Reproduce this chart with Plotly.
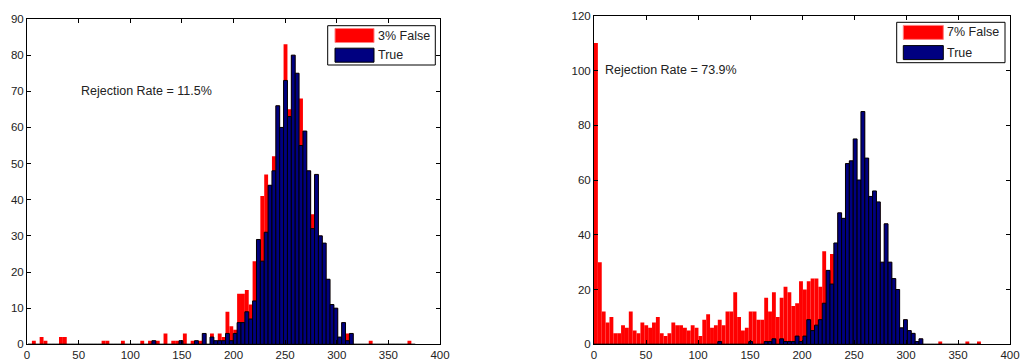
import plotly.graph_objects as go

FIG_W, FIG_H = 1021, 360

# Histogram binning (100 equal bins per panel)
N_BINS = 100
left_bin_start, left_bin_width = 1.0, 3.75
right_bin_start, right_bin_width = 0.0, 3.72

# Left panel: counts per bin, all samples (3% false) and true samples only
left_all = [
    0, 1, 0, 2, 1, 0, 0, 0, 2, 2,
    0, 0, 0, 0, 0, 0, 0, 0, 0, 1,
    1, 0, 0, 0, 1, 0, 0, 0, 0, 1,
    0, 1, 1, 1, 0, 3, 0, 1, 1, 1,
    3, 0, 1, 1, 1, 3, 0, 3, 1, 3,
    2, 9, 5, 4, 14, 14, 15, 11, 23, 29,
    41, 47, 44, 52, 66, 60, 83, 65, 80, 75,
    68, 59, 48, 36, 47, 30, 28, 18, 11, 10,
    2, 6, 3, 3, 0, 0, 0, 0, 1, 0,
    0, 0, 0, 0, 0, 0, 0, 0, 1, 0,
]
left_true = [
    0, 0, 0, 0, 0, 0, 0, 0, 0, 0,
    0, 0, 0, 0, 0, 0, 0, 0, 0, 0,
    0, 0, 0, 0, 0, 0, 0, 0, 0, 0,
    0, 0, 1, 0, 0, 0, 0, 0, 0, 1,
    0, 0, 0, 1, 0, 3, 0, 2, 1, 1,
    1, 3, 1, 3, 6, 6, 9, 7, 12, 29,
    23, 31, 44, 48, 66, 60, 73, 63, 80, 75,
    55, 59, 48, 32, 47, 30, 28, 18, 11, 10,
    2, 6, 1, 3, 0, 0, 0, 0, 0, 0,
    0, 0, 0, 0, 0, 0, 0, 0, 0, 0,
]

# Right panel: counts per bin, all samples (7% false) and true samples only
right_all = [
    110, 30, 12, 8, 10, 4, 4, 7, 6, 12,
    5, 4, 8, 7, 6, 8, 10, 4, 3, 4,
    8, 7, 7, 6, 5, 7, 6, 3, 9, 11,
    6, 7, 9, 7, 12, 12, 19, 10, 5, 6,
    12, 12, 9, 9, 17, 12, 19, 10, 17, 21,
    19, 14, 15, 23, 20, 23, 24, 24, 21, 34,
    27, 33, 37, 48, 46, 66, 67, 75, 60, 85,
    68, 54, 56, 52, 30, 44, 30, 24, 20, 6,
    9, 5, 4, 1, 2, 0, 0, 0, 0, 1,
    0, 0, 0, 0, 0, 0, 1, 0, 0, 1,
]
right_true = [
    0, 0, 0, 0, 0, 0, 0, 0, 0, 0,
    0, 0, 0, 0, 0, 0, 0, 0, 0, 0,
    0, 0, 0, 0, 0, 0, 0, 0, 0, 0,
    0, 0, 1, 0, 0, 0, 0, 0, 0, 0,
    1, 0, 0, 0, 1, 1, 2, 0, 2, 1,
    1, 1, 3, 1, 3, 9, 5, 7, 9, 15,
    27, 22, 37, 48, 46, 66, 67, 75, 60, 85,
    68, 54, 56, 52, 30, 44, 30, 24, 20, 6,
    9, 5, 4, 1, 2, 0, 0, 0, 0, 0,
    0, 0, 0, 0, 0, 0, 0, 0, 0, 0,
]

left_false_label = "3% False"
right_false_label = "7% False"
true_label = "True"
left_note = "Rejection Rate = 11.5%"
right_note = "Rejection Rate = 73.9%"

x_ticks = [0, 50, 100, 150, 200, 250, 300, 350, 400]
left_y_ticks = [0, 10, 20, 30, 40, 50, 60, 70, 80, 90]
right_y_ticks = [0, 20, 40, 60, 80, 100, 120]

RED = "#ff0000"
NAVY = "#000080"
FONT = "Liberation Sans, Arial, sans-serif"
TICK_SIZE = 11.5
TEXT_SIZE = 12.5


def bin_centers(start, width):
    return [start + width * (i + 0.5) for i in range(N_BINS)]


def px_x(x):
    return x / FIG_W


def px_y(y):
    return 1 - y / FIG_H


fig = go.Figure()

panels = [
    ("x", "y", left_bin_start, left_bin_width, left_all, left_true),
    ("x2", "y2", right_bin_start, right_bin_width, right_all, right_true),
]
for xa, ya, start, width, all_counts, true_counts in panels:
    centers = bin_centers(start, width)
    fig.add_trace(go.Bar(
        x=centers, y=all_counts, width=width, xaxis=xa, yaxis=ya,
        marker=dict(color=RED, line=dict(width=0)), showlegend=False,
    ))
    fig.add_trace(go.Bar(
        x=centers, y=true_counts, width=width, xaxis=xa, yaxis=ya,
        marker=dict(color=NAVY, line=dict(color="black", width=1)),
        showlegend=False,
    ))

axis_common = dict(
    showline=True, linecolor="black", linewidth=1, mirror="ticks",
    ticks="inside", ticklen=4, tickcolor="black", tickwidth=1,
    showgrid=False, zeroline=False, automargin=False,
    tickfont=dict(family=FONT, size=TICK_SIZE, color="#222222"),
)

fig.update_layout(
    width=FIG_W, height=FIG_H,
    margin=dict(l=0, r=0, t=0, b=0),
    paper_bgcolor="white", plot_bgcolor="white",
    barmode="overlay", showlegend=False,
    font=dict(family=FONT, size=TICK_SIZE, color="black"),
    xaxis=dict(domain=[px_x(27), px_x(440)], range=[0, 400],
               tickvals=x_ticks, anchor="y", **axis_common),
    yaxis=dict(domain=[px_y(344.3), px_y(19)], range=[0, 90],
               tickvals=left_y_ticks, anchor="x", **axis_common),
    xaxis2=dict(domain=[px_x(594), px_x(1010)], range=[0, 400],
                tickvals=x_ticks, anchor="y2", **axis_common),
    yaxis2=dict(domain=[px_y(344.3), px_y(15.7)], range=[0, 120],
                tickvals=right_y_ticks, anchor="x2", **axis_common),
)

# Rejection-rate notes
fig.add_annotation(x=50, y=70, xref="x", yref="y", text=left_note,
                   showarrow=False, xanchor="left", yanchor="middle",
                   font=dict(family=FONT, size=TEXT_SIZE, color="#222222"))
fig.add_annotation(x=9, y=100, xref="x2", yref="y2", text=right_note,
                   showarrow=False, xanchor="left", yanchor="middle",
                   font=dict(family=FONT, size=TEXT_SIZE, color="#222222"))

# Boxed legends with wide colour patches
legends = [
    (327.7, 435.3, 25.7, 65.0, 335, 374, left_false_label),
    (896.7, 1005.0, 22.3, 62.7, 903.3, 943.3, right_false_label),
]
for bx0, bx1, by0, by1, sx0, sx1, false_label in legends:
    fig.add_shape(type="rect", xref="paper", yref="paper",
                  x0=px_x(bx0), x1=px_x(bx1), y0=px_y(by1), y1=px_y(by0),
                  line=dict(color="black", width=1), fillcolor="white")
    row_h = (by1 - by0) / 2
    rows = [(false_label, RED, "#ff8080"), (true_label, NAVY, "black")]
    for k, (label, fill, edge) in enumerate(rows):
        cy = by0 + row_h * (k + 0.5)
        fig.add_shape(type="rect", xref="paper", yref="paper",
                      x0=px_x(sx0), x1=px_x(sx1),
                      y0=px_y(cy + 7), y1=px_y(cy - 7),
                      line=dict(color=edge, width=1), fillcolor=fill)
        fig.add_annotation(x=px_x(sx1 + 2), y=px_y(cy), xref="paper",
                           yref="paper", text=label, showarrow=False,
                           xanchor="left", yanchor="middle",
                           font=dict(family=FONT, size=TEXT_SIZE,
                                     color="#222222"))

fig.write_html("out.html", config={"displayModeBar": False})
